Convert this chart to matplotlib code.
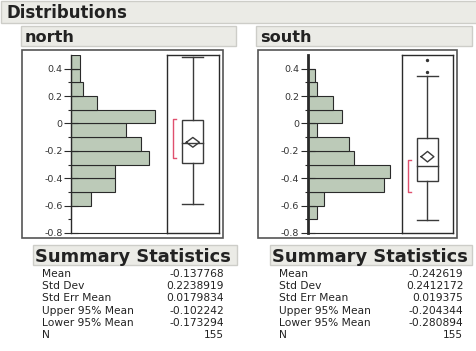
import matplotlib
matplotlib.use("Agg")
import matplotlib.pyplot as plt
from matplotlib.patches import Rectangle
import numpy as np

# ---- data ----
bin_edges_lower = [-0.7, -0.6, -0.5, -0.4, -0.3, -0.2, -0.1, 0.0, 0.1, 0.2, 0.3, 0.4]
north_counts = [0, 7, 15, 15, 27, 24, 19, 29, 9, 4, 3, 3]
south_counts = [4, 7, 33, 36, 20, 18, 4, 15, 11, 4, 3, 0]

north_box = dict(lo=-0.589, q1=-0.291, med=-0.143, q3=0.024, hi=0.487,
                 short_lo=-0.255, short_hi=0.036, outliers=[])
south_box = dict(lo=-0.706, q1=-0.42, med=-0.31, q3=-0.109, hi=0.35,
                 short_lo=-0.504, short_hi=-0.269, outliers=[0.373, 0.465])

stat_names = ["Mean", "Std Dev", "Std Err Mean", "Upper 95% Mean", "Lower 95% Mean", "N"]
north_stats = ["-0.137768", "0.2238919", "0.0179834", "-0.102242", "-0.173294", "155"]
south_stats = ["-0.242619", "0.2412172", "0.019375", "-0.204344", "-0.280894", "155"]
north_mean, north_ci = -0.137768, (-0.173294, -0.102242)
south_mean, south_ci = -0.242619, (-0.280894, -0.204344)

major_ticks = [-0.8, -0.6, -0.4, -0.2, 0.0, 0.2, 0.4]
major_labels = ["-0.8", "-0.6", "-0.4", "-0.2", "0", "0.2", "0.4"]
minor_ticks = [-0.7, -0.5, -0.3, -0.1, 0.1, 0.3]

# ---- layout helpers (pixel coordinates, origin top-left) ----
W, H = 477, 351
fig = plt.figure(figsize=(W / 100, H / 100), dpi=100)
fig.patch.set_facecolor("white")

HDR_FILL = "#ebebe6"
HDR_EDGE = "#cdcdc8"
BAR_FILL = "#bccab8"
LINE = "#2a2a2a"


def rect_fig(x0, y0, x1, y1):
    return [x0 / W, 1 - y1 / H, (x1 - x0) / W, (y1 - y0) / H]


def fig_box(x0, y0, x1, y1, fc="none", ec=LINE, lw=1.0, z=0):
    fig.add_artist(Rectangle((x0 / W, 1 - y1 / H), (x1 - x0) / W, (y1 - y0) / H,
                             transform=fig.transFigure, facecolor=fc,
                             edgecolor=ec, linewidth=lw, zorder=z))


def fig_text(x, y, s, **kw):
    fig.text(x / W, 1 - y / H, s, **kw)


# ---- headers ----
fig_box(1, 1, 477, 22.5, fc=HDR_FILL, ec=HDR_EDGE)
fig_text(6, 18.3, "Distributions", fontsize=11.9, fontweight="bold",
         va="baseline", color="#222222")


def panel(x_frame, x_axis, x_div, x_right, name, hdr_x0, hdr_x1, counts, xmax,
          box, mean, ci, stats, sum_x0, sum_x1, val_right, axis_lw):
    # panel title bar
    fig_box(hdr_x0, 26, hdr_x1, 45.7, fc=HDR_FILL, ec=HDR_EDGE)
    fig_text(hdr_x0 + 4, 41.7, name, fontsize=11.6, fontweight="bold",
             va="baseline", color="#222222")
    # outer frame
    fig_box(x_frame, 50, x_right + 4, 238, ec="#555555", lw=1.2)

    # histogram
    ax = fig.add_axes(rect_fig(x_axis, 55, x_div, 233))
    ax.barh(bin_edges_lower, counts, height=0.1, align="edge",
            color=BAR_FILL, edgecolor=LINE, linewidth=0.8)
    ax.set_ylim(-0.8, 0.5)
    ax.set_xlim(0, xmax)
    for s in ["top", "right"]:
        ax.spines[s].set_visible(False)
    ax.spines["left"].set_linewidth(axis_lw)
    ax.spines["left"].set_color(LINE)
    ax.spines["bottom"].set_color(LINE)
    ax.set_xticks([])
    ax.set_yticks(major_ticks)
    ax.set_yticklabels(major_labels)
    ax.set_yticks(minor_ticks, minor=True)
    ax.tick_params(axis="y", which="major", direction="inout", length=10,
                   width=0.8, color=LINE, labelsize=6.8, labelcolor="#333333", pad=1)
    ax.tick_params(axis="y", which="minor", direction="out", length=2.5,
                   width=0.8, color=LINE)
    ax.patch.set_alpha(0)

    # outlier box plot
    bx = fig.add_axes(rect_fig(x_div, 55, x_right, 233))
    bx.set_xlim(0, 1)
    bx.set_ylim(-0.8, 0.5)
    bx.set_xticks([])
    bx.set_yticks([])
    for s in bx.spines.values():
        s.set_color(LINE)
        s.set_linewidth(1.0)
    c, hw = 0.5, 0.2
    kw = dict(color="#3a3a3a", lw=1.0)
    bx.plot([c, c], [box["lo"], box["q1"]], **kw)
    bx.plot([c, c], [box["q3"], box["hi"]], **kw)
    bx.plot([c - hw, c + hw], [box["lo"], box["lo"]], **kw)
    bx.plot([c - hw, c + hw], [box["hi"], box["hi"]], **kw)
    bx.add_patch(Rectangle((c - hw, box["q1"]), 2 * hw, box["q3"] - box["q1"],
                           fill=False, edgecolor="#3a3a3a", lw=1.0))
    bx.plot([c - hw, c + hw], [box["med"], box["med"]], **kw)
    dw = 0.125
    bx.plot([c - dw, c, c + dw, c, c - dw],
            [mean, ci[1], mean, ci[0], mean], **kw)
    # shortest half bracket
    bxk = 0.12
    bx.plot([bxk + 0.06, bxk, bxk, bxk + 0.06],
            [box["short_hi"], box["short_hi"], box["short_lo"], box["short_lo"]],
            color="#e0506e", lw=1.0)
    if box["outliers"]:
        bx.scatter([c] * len(box["outliers"]), box["outliers"], s=2,
                   color="#333333", zorder=3)

    # summary statistics
    fig_box(sum_x0, 245, sum_x1, 264.5, fc=HDR_FILL, ec=HDR_EDGE)
    fig_text(sum_x0 + 2, 261.7, "Summary Statistics", fontsize=12.9,
             fontweight="bold", va="baseline", color="#222222")
    y0 = 276.7
    for i, (nm, val) in enumerate(zip(stat_names, stats)):
        yy = y0 + i * 12.33
        fig_text(sum_x0 + 9, yy, nm, fontsize=7.7, va="baseline", color="#222222")
        fig_text(val_right, yy, val, fontsize=7.7, va="baseline", ha="right",
                 color="#222222")


panel(22, 71, 166.7, 219, "north", 21, 236, north_counts, 33,
      north_box, north_mean, north_ci, north_stats, 33, 237, 224, 1.0)
panel(258, 307.7, 402, 453, "south", 256, 472, south_counts, 41,
      south_box, south_mean, south_ci, south_stats, 270, 472, 463.3, 2.0)

fig.savefig("out.png", dpi=100, facecolor="white")
